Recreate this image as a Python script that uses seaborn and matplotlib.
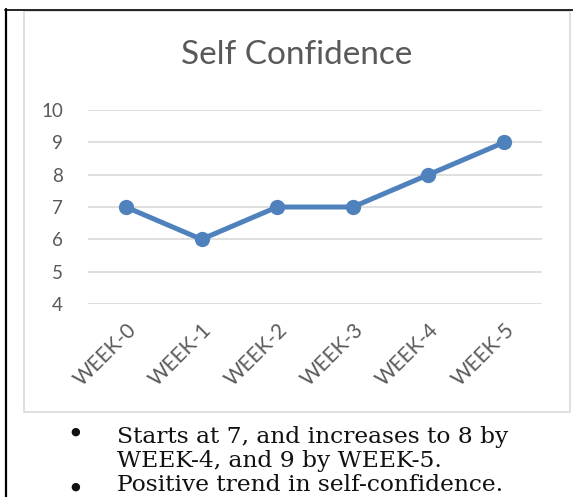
import matplotlib
matplotlib.use("Agg")
import matplotlib.pyplot as plt
import seaborn as sns
import pandas as pd
from matplotlib.patches import Rectangle
from matplotlib.lines import Line2D

# data
weeks = ["WEEK-0", "WEEK-1", "WEEK-2", "WEEK-3", "WEEK-4", "WEEK-5"]
scores = [7, 6, 7, 7, 8, 9]
y_ticks = [4, 5, 6, 7, 8, 9, 10]
title = "Self Confidence"
bullet_lines = [
    "Starts at 7, and increases to 8 by",
    "WEEK-4, and 9 by WEEK-5.",
    "Positive trend in self-confidence.",
]

sns.set_style("white")
plt.rcParams['font.family'] = ['Lato', 'DejaVu Sans']

W, H = 573, 497
fig = plt.figure(figsize=(W / 100, H / 100), dpi=100)


def fx(px):
    return px / W


def fy(py):
    return 1 - py / H


# page frame lines (black) and chart box (light grey)
fig.add_artist(Line2D([fx(6), fx(6)], [fy(9), 0], color="black", lw=1.6, transform=fig.transFigure))
fig.add_artist(Line2D([fx(5), 1], [fy(9.5), fy(9.5)], color="black", lw=1.2, transform=fig.transFigure))
fig.add_artist(Rectangle((fx(24), fy(412)), fx(570) - fx(24), fy(11) - fy(412),
                         transform=fig.transFigure, fill=False, edgecolor="#d9d9d9", lw=1.2))

ax = fig.add_axes([fx(88), fy(304), fx(542) - fx(88), fy(110) - fy(304)])
df = pd.DataFrame({"week": weeks, "score": scores})
sns.lineplot(data=df, x="week", y="score", ax=ax, color="#4f81bd", lw=3.6,
             marker="o", markersize=11, markeredgewidth=0, sort=False)

ax.set_xlim(-0.5, len(weeks) - 0.5)
ax.set_ylim(4, 10)
ax.set_yticks(y_ticks)
ax.grid(axis="y", color="#d9d9d9", lw=1.2)
ax.set_axisbelow(True)
for s in ax.spines.values():
    s.set_visible(False)
ax.set_xlabel("")
ax.set_ylabel("")
ax.tick_params(axis="y", length=0, pad=18, labelsize=13.5, labelcolor="#595959")
ax.tick_params(axis="x", length=0, pad=11, labelsize=15, labelcolor="#595959")
ax.set_xticks(range(len(weeks)))
ax.set_xticklabels(weeks, rotation=45, ha="right", rotation_mode="anchor")

fig.text(fx(297), fy(55), title, ha="center", va="center", fontsize=24, color="#595959")

# bullet text below the chart
for line, base in zip(bullet_lines, [443, 467, 491]):
    fig.text(fx(117), fy(base), line, family="DejaVu Serif", fontsize=16.8,
             va="baseline", ha="left", color="#111111")
for cy in [432, 487]:
    fig.text(fx(75), fy(cy), "\u25cf", family="DejaVu Sans", fontsize=8,
             ha="center", va="center", color="#111111")

fig.savefig("out.png", dpi=100)
